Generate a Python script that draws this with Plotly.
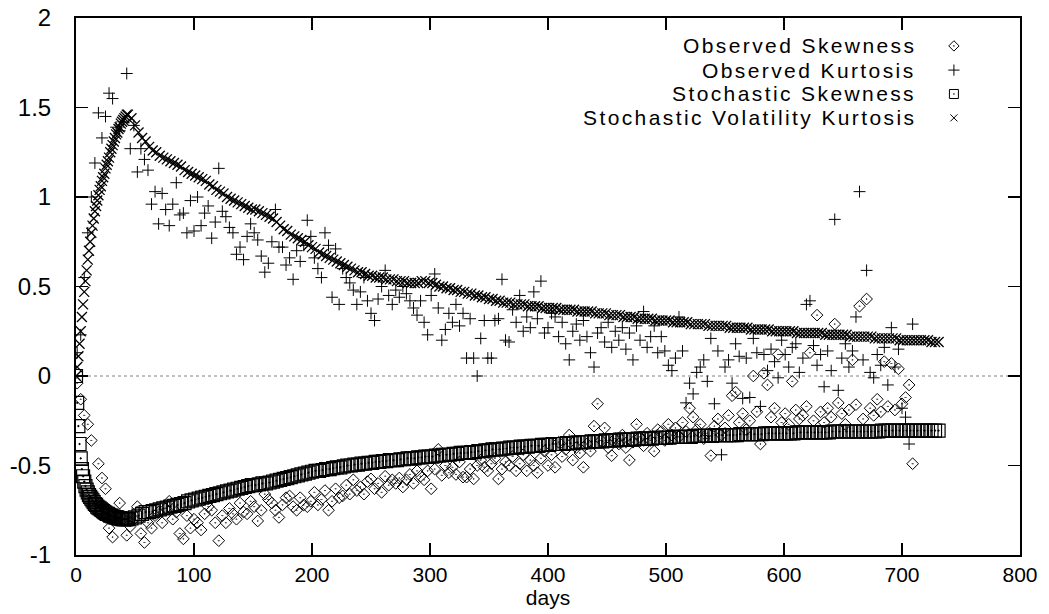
import plotly.graph_objects as go

# ---------------- data ----------------
# Observed series: one point every 3 days starting at day 1
obs_skew = [
    -0.04, -0.13, -0.22, -0.27, -0.36, -0.74, -0.49, -0.57, -0.63, -0.85,
    -0.90, -0.78, -0.71, -0.80, -0.89, -0.84, -0.80, -0.73, -0.88, -0.93,
    -0.82, -0.85, -0.78, -0.76, -0.82, -0.74, -0.70, -0.80, -0.76, -0.88,
    -0.91, -0.78, -0.85, -0.80, -0.82, -0.86, -0.77, -0.73, -0.75, -0.82,
    -0.92, -0.78, -0.82, -0.74, -0.77, -0.80, -0.71, -0.76, -0.77, -0.70,
    -0.73, -0.81, -0.75, -0.66, -0.69, -0.71, -0.75, -0.79, -0.72, -0.68,
    -0.67, -0.73, -0.75, -0.68, -0.72, -0.73, -0.70, -0.65, -0.72, -0.69,
    -0.64, -0.75, -0.70, -0.63, -0.68, -0.67, -0.61, -0.66, -0.58, -0.64,
    -0.62, -0.66, -0.59, -0.575, -0.63, -0.60, -0.65, -0.56, -0.61, -0.58,
    -0.60, -0.57, -0.62, -0.58, -0.55, -0.60, -0.53, -0.56, -0.58, -0.53,
    -0.63, -0.52, -0.41, -0.555, -0.50, -0.54, -0.51, -0.55, -0.48, -0.565,
    -0.565, -0.52, -0.575, -0.50, -0.47, -0.51, -0.53, -0.49, -0.46, -0.575,
    -0.52, -0.48, -0.50, -0.45, -0.53, -0.49, -0.44, -0.53, -0.47, -0.50,
    -0.54, -0.46, -0.42, -0.50, -0.44, -0.51, -0.37, -0.45, -0.41, -0.33,
    -0.47, -0.40, -0.43, -0.51, -0.38, -0.42, -0.28, -0.155, -0.36, -0.29,
    -0.40, -0.445, -0.35, -0.38, -0.33, -0.40, -0.47, -0.37, -0.27, -0.34,
    -0.39, -0.32, -0.36, -0.42, -0.30, -0.31, -0.36, -0.27, -0.33, -0.29,
    -0.34, -0.26, -0.31, -0.18, -0.23, -0.30, -0.27, -0.35, -0.32, -0.445,
    -0.28, -0.24, -0.33, -0.29, -0.22, -0.11, -0.09, -0.26, -0.21, -0.30,
    -0.25, 0.00, -0.20, -0.38, 0.015, -0.05, -0.23, -0.18, 0.12, -0.26,
    -0.21, -0.27, -0.03, -0.19, -0.24, -0.22, -0.17, 0.13, -0.25, 0.34,
    -0.20, -0.26, -0.18, -0.23, 0.29, -0.15, -0.21, -0.27, -0.19, 0.09,
    -0.16, 0.39, -0.24, 0.43, -0.18, -0.22, -0.13, -0.20, 0.08, -0.17,
    0.07, -0.19, 0.04, -0.155, -0.12, -0.05, -0.49,
]
obs_kurt = [
    0.13, 0.23, 0.55, 0.80, 1.00, 1.19, 1.47, 1.33, 1.45, 1.58,
    1.55, 1.39, 1.37, 1.42, 1.69, 1.27, 1.40, 1.14, 1.27, 1.21,
    1.15, 0.96, 1.03, 0.85, 1.02, 0.93, 0.84, 0.96, 1.08, 0.90,
    0.91, 0.80, 0.98, 0.81, 1.00, 0.84, 0.91, 0.95, 0.77, 0.86,
    1.16, 0.92, 0.89, 0.83, 0.80, 0.68, 0.72, 0.65, 0.78, 0.85,
    0.80, 0.76, 0.67, 0.58, 0.63, 0.75, 0.93, 0.72, 0.72, 0.62,
    0.66, 0.54, 0.70, 0.64, 0.73, 0.87, 0.78, 0.66, 0.60, 0.55,
    0.80, 0.73, 0.44, 0.71, 0.40, 0.60, 0.55, 0.52, 0.48, 0.40,
    0.47, 0.55, 0.42, 0.35, 0.31, 0.43, 0.50, 0.59, 0.45, 0.40,
    0.48, 0.44, 0.50, 0.46, 0.42, 0.38, 0.34, 0.42, 0.30, 0.23,
    0.45, 0.57, 0.38, 0.20, 0.26, 0.35, 0.30, 0.40, 0.28, 0.35,
    0.10, 0.32, 0.10, 0.00, 0.21, 0.31, 0.10, 0.10, 0.31, 0.32,
    0.54, 0.20, 0.19, 0.37, 0.30, 0.45, 0.25, 0.33, 0.27, 0.47,
    0.32, 0.53, 0.24, 0.27, 0.35, 0.33, 0.22, 0.30, 0.18, 0.09,
    0.25, 0.29, 0.20, 0.31, 0.22, 0.13, 0.05, 0.24, 0.27, 0.19,
    0.30, 0.16, 0.25, 0.20, 0.27, 0.15, 0.24, 0.09, 0.28, 0.20,
    0.36, 0.16, 0.22, 0.28, 0.13, 0.22, 0.14, 0.06, 0.03, 0.10,
    0.33, 0.14, -0.15, -0.04, -0.10, 0.02, 0.05, 0.09, -0.03, 0.21,
    -0.155, 0.14, -0.44, 0.05, 0.09, -0.04, 0.18, 0.11, -0.125, 0.10,
    -0.12, 0.21, 0.13, -0.17, 0.12, 0.03, 0.15, 0.08, -0.01, 0.20,
    0.12, 0.05, 0.16, 0.18, 0.02, 0.10, 0.40, 0.42, 0.17, 0.06,
    0.12, -0.06, 0.14, 0.03, 0.875, -0.08, 0.10, 0.18, 0.05, 0.14,
    0.33, 1.03, 0.09, 0.59, 0.02, -0.01, 0.12, 0.06, 0.16, -0.05,
    0.27, 0.05, 0.15, -0.18, -0.23, -0.38, 0.29,
]

# Stochastic model: daily for days 0..44, then every 3 days from day 47
sv_skew_early = [
    0.00, -0.15, -0.28, -0.38, -0.46, -0.52, -0.56, -0.59, -0.615, -0.635,
    -0.65, -0.665, -0.675, -0.685, -0.695, -0.705, -0.715, -0.72, -0.73, -0.735,
    -0.74, -0.745, -0.75, -0.755, -0.76, -0.765, -0.77, -0.77, -0.775, -0.78,
    -0.78, -0.785, -0.785, -0.79, -0.79, -0.79, -0.795, -0.795, -0.795, -0.80,
    -0.80, -0.80, -0.80, -0.80, -0.80,
]
sv_skew_late = [
    -0.795, -0.79, -0.78, -0.77, -0.76, -0.76, -0.755, -0.75, -0.745, -0.74,
    -0.735, -0.73, -0.725, -0.72, -0.715, -0.71, -0.70, -0.695, -0.69, -0.685,
    -0.68, -0.675, -0.67, -0.665, -0.66, -0.655, -0.65, -0.645, -0.64, -0.635,
    -0.63, -0.625, -0.62, -0.615, -0.61, -0.61, -0.605, -0.60, -0.60, -0.595,
    -0.59, -0.585, -0.58, -0.575, -0.57, -0.565, -0.56, -0.555, -0.55, -0.545,
    -0.54, -0.535, -0.53, -0.53, -0.525, -0.52, -0.52, -0.515, -0.51, -0.51,
    -0.505, -0.50, -0.50, -0.495, -0.495, -0.49, -0.49, -0.485, -0.485, -0.48,
    -0.48, -0.475, -0.475, -0.47, -0.47, -0.47, -0.465, -0.465, -0.46, -0.46,
    -0.46, -0.455, -0.455, -0.45, -0.45, -0.45, -0.445, -0.445, -0.44, -0.44,
    -0.44, -0.435, -0.435, -0.43, -0.43, -0.43, -0.425, -0.425, -0.42, -0.42,
    -0.415, -0.415, -0.41, -0.41, -0.41, -0.405, -0.405, -0.40, -0.40, -0.40,
    -0.395, -0.395, -0.395, -0.39, -0.39, -0.39, -0.385, -0.385, -0.385, -0.38,
    -0.38, -0.38, -0.38, -0.375, -0.375, -0.375, -0.37, -0.37, -0.37, -0.37,
    -0.365, -0.365, -0.365, -0.365, -0.36, -0.36, -0.36, -0.36, -0.355, -0.355,
    -0.355, -0.355, -0.355, -0.35, -0.35, -0.35, -0.35, -0.35, -0.345, -0.345,
    -0.345, -0.345, -0.345, -0.34, -0.34, -0.34, -0.34, -0.34, -0.34, -0.335,
    -0.335, -0.335, -0.335, -0.335, -0.335, -0.33, -0.33, -0.33, -0.33, -0.33,
    -0.33, -0.33, -0.325, -0.325, -0.325, -0.325, -0.325, -0.325, -0.325, -0.32,
    -0.32, -0.32, -0.32, -0.32, -0.32, -0.32, -0.32, -0.32, -0.315, -0.315,
    -0.315, -0.315, -0.315, -0.315, -0.315, -0.315, -0.315, -0.315, -0.31, -0.31,
    -0.31, -0.31, -0.31, -0.31, -0.31, -0.31, -0.31, -0.31, -0.31, -0.31,
    -0.31, -0.31, -0.305, -0.305, -0.305, -0.305, -0.305, -0.305, -0.305, -0.305,
    -0.305, -0.305, -0.305, -0.305, -0.305, -0.305, -0.305, -0.305, -0.305,
]
sv_kurt_early = [
    0.00, 0.05, 0.11, 0.18, 0.25, 0.33, 0.40, 0.47, 0.53, 0.59,
    0.65, 0.70, 0.75, 0.80, 0.84, 0.88, 0.92, 0.95, 0.98, 1.01,
    1.04, 1.06, 1.09, 1.11, 1.13, 1.16, 1.18, 1.20, 1.22, 1.25,
    1.27, 1.29, 1.31, 1.33, 1.35, 1.36, 1.38, 1.39, 1.41, 1.42,
    1.43, 1.44, 1.45, 1.46, 1.46,
]
sv_kurt_late = [
    1.44, 1.40, 1.36, 1.33, 1.31, 1.28, 1.26, 1.25, 1.23, 1.22,
    1.21, 1.20, 1.19, 1.18, 1.17, 1.15, 1.14, 1.13, 1.12, 1.11,
    1.10, 1.09, 1.07, 1.06, 1.04, 1.03, 1.02, 1.00, 0.99, 0.98,
    0.97, 0.96, 0.95, 0.94, 0.93, 0.93, 0.92, 0.91, 0.90, 0.89,
    0.88, 0.86, 0.84, 0.82, 0.81, 0.79, 0.78, 0.77, 0.76, 0.75,
    0.73, 0.72, 0.71, 0.69, 0.68, 0.67, 0.66, 0.65, 0.64, 0.63,
    0.62, 0.61, 0.60, 0.59, 0.58, 0.58, 0.57, 0.56, 0.56, 0.55,
    0.55, 0.55, 0.54, 0.54, 0.54, 0.53, 0.53, 0.53, 0.52, 0.52,
    0.52, 0.52, 0.53, 0.53, 0.52, 0.52, 0.51, 0.50, 0.50, 0.49,
    0.49, 0.48, 0.48, 0.47, 0.47, 0.46, 0.46, 0.45, 0.45, 0.44,
    0.44, 0.43, 0.43, 0.42, 0.42, 0.41, 0.41, 0.41, 0.40, 0.40,
    0.40, 0.40, 0.39, 0.39, 0.39, 0.39, 0.38, 0.38, 0.38, 0.38,
    0.38, 0.37, 0.37, 0.37, 0.37, 0.37, 0.36, 0.36, 0.36, 0.36,
    0.36, 0.35, 0.35, 0.35, 0.35, 0.34, 0.34, 0.34, 0.34, 0.33,
    0.33, 0.33, 0.33, 0.32, 0.32, 0.32, 0.32, 0.32, 0.31, 0.31,
    0.31, 0.31, 0.31, 0.30, 0.30, 0.30, 0.30, 0.30, 0.29, 0.29,
    0.29, 0.29, 0.29, 0.28, 0.28, 0.28, 0.28, 0.28, 0.28, 0.27,
    0.27, 0.27, 0.27, 0.27, 0.27, 0.26, 0.26, 0.26, 0.26, 0.26,
    0.26, 0.25, 0.25, 0.25, 0.25, 0.25, 0.25, 0.25, 0.24, 0.24,
    0.24, 0.24, 0.24, 0.24, 0.24, 0.24, 0.23, 0.23, 0.23, 0.23,
    0.23, 0.23, 0.23, 0.22, 0.22, 0.22, 0.22, 0.22, 0.22, 0.22,
    0.21, 0.21, 0.21, 0.21, 0.21, 0.21, 0.21, 0.20, 0.20, 0.20,
    0.20, 0.20, 0.20, 0.20, 0.20, 0.20, 0.19, 0.19, 0.19,
]

series_names = ["Observed Skewness", "Observed Kurtosis",
                "Stochastic Skewness", "Stochastic Volatility Kurtosis"]
x_ticks = [0, 100, 200, 300, 400, 500, 600, 700, 800]
y_ticks = [-1, -0.5, 0, 0.5, 1, 1.5, 2]
y_tick_text = ["-1", "-0.5", "0", "0.5", "1", "1.5", "2"]

# ---------------- derived x positions ----------------
obs_days = [1 + 3 * i for i in range(len(obs_skew))]
obs_days_k = [1 + 3 * i for i in range(len(obs_kurt))]
sv_skew = sv_skew_early + sv_skew_late
sv_kurt = sv_kurt_early + sv_kurt_late
sv_days_s = list(range(len(sv_skew_early))) + [47 + 3 * i for i in range(len(sv_skew_late))]
sv_days_k = list(range(len(sv_kurt_early))) + [47 + 3 * i for i in range(len(sv_kurt_late))]

BLACK = "#000000"
FONT = "Liberation Sans, Arial, Helvetica, sans-serif"
NARROW = "Liberation Sans Narrow, Liberation Sans, Arial, sans-serif"
styles = [
    dict(symbol="diamond-open-dot", size=9, line=dict(width=1, color=BLACK), color=BLACK),
    dict(symbol="cross-thin-open", size=8.5, line=dict(width=1, color=BLACK), color=BLACK),
    dict(symbol="square-open-dot", size=13, line=dict(width=1.2, color=BLACK), color=BLACK),
    dict(symbol="x-thin-open", size=10, line=dict(width=1.3, color=BLACK), color=BLACK),
]
legend_styles = [
    dict(symbol="diamond-open-dot", size=8, line=dict(width=1, color=BLACK), color=BLACK),
    dict(symbol="cross-thin-open", size=8, line=dict(width=1, color=BLACK), color=BLACK),
    dict(symbol="square-open-dot", size=9, line=dict(width=1, color=BLACK), color=BLACK),
    dict(symbol="x-thin-open", size=7, line=dict(width=1, color=BLACK), color=BLACK),
]

fig = go.Figure()
data_sets = [(obs_days, obs_skew), (obs_days_k, obs_kurt),
             (sv_days_s, sv_skew), (sv_days_k, sv_kurt)]
for (xs, ys), name, st in zip(data_sets, series_names, styles):
    fig.add_trace(go.Scatter(x=xs, y=ys, mode="markers", name=name,
                             marker=st, showlegend=False, hoverinfo="skip"))

# custom key (text right aligned, symbol on its right), gnuplot style
legend_rows = [0.948, 0.903, 0.8585, 0.814]
for name, st, ly in zip(series_names, legend_styles, legend_rows):
    fig.add_trace(go.Scatter(x=[0.930], y=[ly], mode="markers", marker=st,
                             xaxis="x2", yaxis="y2", showlegend=False, hoverinfo="skip"))
    fig.add_annotation(x=0.891, y=ly, xref="paper", yref="paper",
                       text='<span style="letter-spacing:2.4px">' + name + '</span>',
                       showarrow=False, xanchor="right", yanchor="middle",
                       borderpad=0, font=dict(family=FONT, size=21, color=BLACK))

# dotted zero line
fig.add_shape(type="line", xref="paper", yref="y", x0=0, x1=1, y0=0, y1=0,
              line=dict(color="#808080", width=1, dash="dot"), layer="below")

fig.update_layout(
    width=1049, height=614,
    margin=dict(l=76, r=29, t=18, b=59, autoexpand=False),
    paper_bgcolor="white", plot_bgcolor="white",
    font=dict(family=FONT, color=BLACK),
    xaxis=dict(range=[0, 800], tickvals=x_ticks, ticks="inside", ticklen=12,
               tickwidth=1.5, tickcolor=BLACK, showline=True, linecolor=BLACK,
               linewidth=2, mirror="ticks", showgrid=False, zeroline=False,
               automargin=False, ticklabeloverflow="allow",
               tickfont=dict(family=NARROW, size=21),
               title=dict(text="days", standoff=0, font=dict(family=NARROW, size=21))),
    yaxis=dict(range=[-1, 2], tickvals=y_ticks, ticktext=y_tick_text, ticks="inside",
               ticklen=12, tickwidth=1.5, tickcolor=BLACK, showline=True, linecolor=BLACK,
               linewidth=2, mirror="ticks", showgrid=False, zeroline=False,
               automargin=False, ticklabeloverflow="allow", ticklabelstandoff=18,
               tickfont=dict(family=FONT, size=24)),
    xaxis2=dict(overlaying="x", range=[0, 1], visible=False),
    yaxis2=dict(overlaying="y", range=[0, 1], visible=False),
)

# remove the browser's default 8px body margin so the figure fills the window
fig.write_html("out.html",
               config={"displayModeBar": False, "staticPlot": True},
               post_script="document.body.style.margin='0';document.body.style.overflow='hidden';")
